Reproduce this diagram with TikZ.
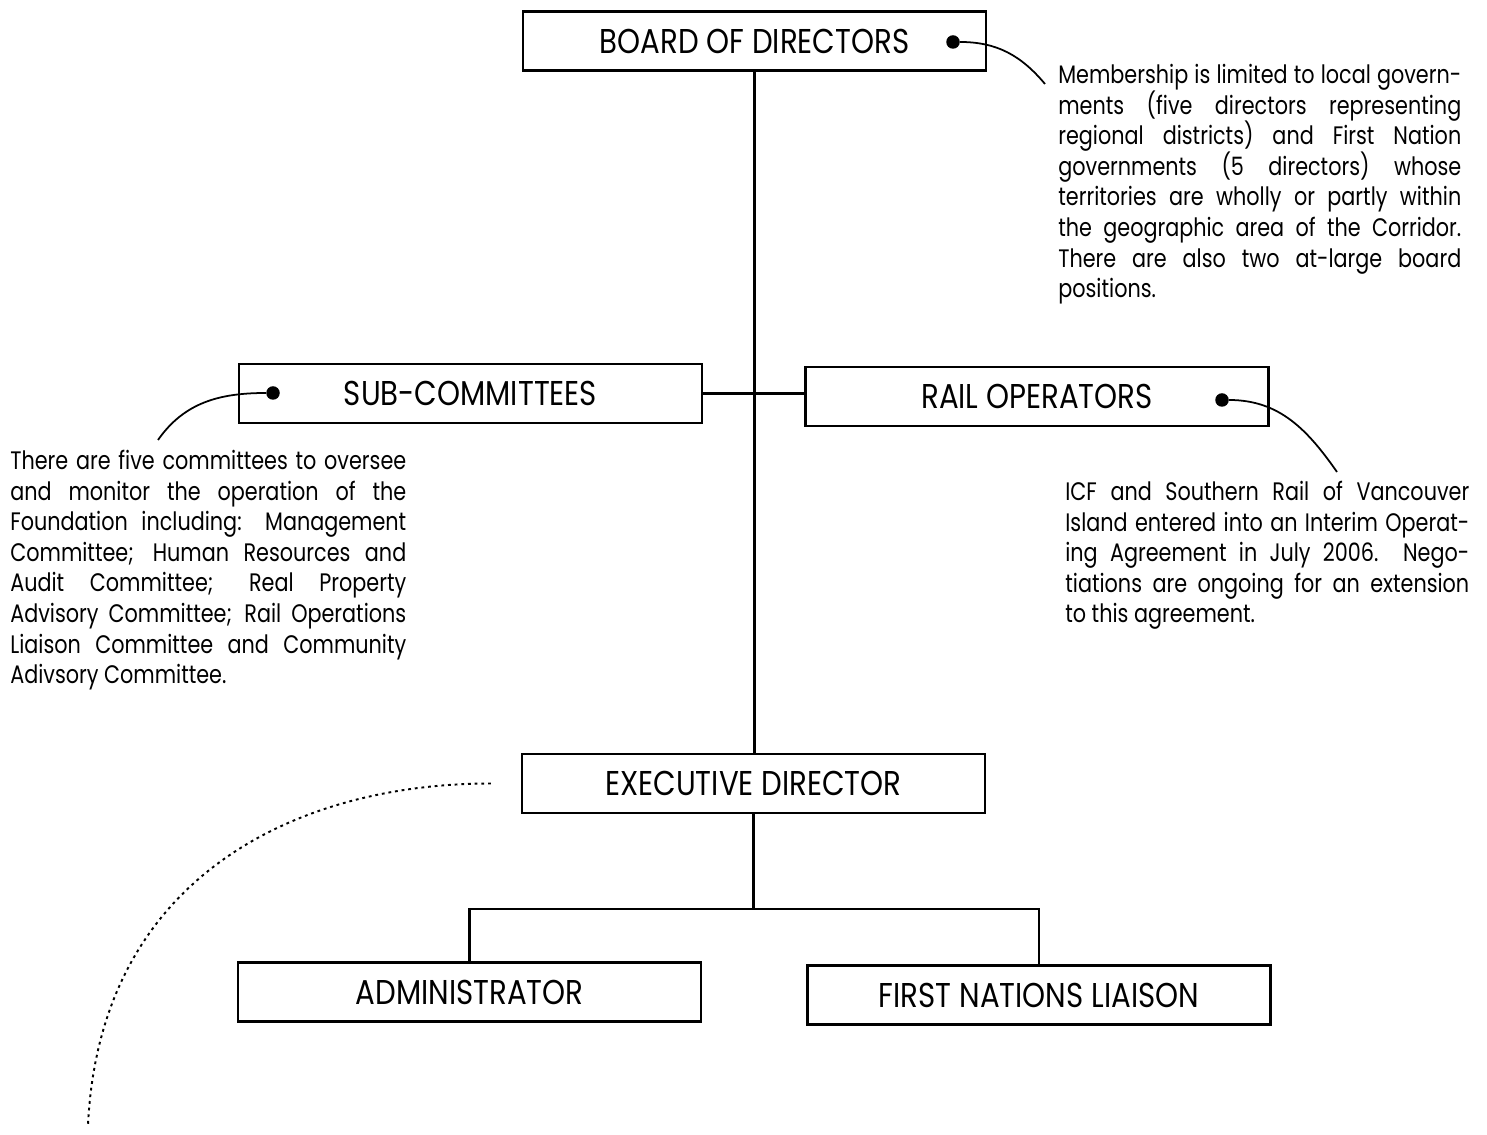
\documentclass[tikz,border=0pt]{standalone}
\usepackage{fontspec}
\setmainfont{Poppins}
\newfontfamily\boxfont{Poppins}[FakeStretch=0.85]
\newfontfamily\notefont{Poppins}[FakeStretch=0.82]
\usetikzlibrary{positioning}

\begin{document}
\begin{tikzpicture}[
  x=0.02cm, y=0.02cm,
  unit/.style={rectangle, draw, line width=1.4pt, minimum width=9.26cm, minimum height=1.18cm,
               inner sep=0pt, font=\boxfont\fontsize{19.6}{23}\selectfont},
  note/.style={anchor=north west, inner sep=0pt, align=justify,
               font=\notefont\fontsize{14.4}{17.4}\selectfont},
  link/.style={line width=1.4pt},
  pin/.style={circle, fill, inner sep=0pt, minimum size=0.27cm},
  leader/.style={line width=1pt},
  trail/.style={line width=1.1pt, dash pattern=on 1.6pt off 2.2pt}
]
\useasboundingbox (0,0) rectangle (1487,1135);

\node[unit] (board) at (754.5,1094) {BOARD OF DIRECTORS};
\node[unit] (sub) at (470.5,741.5) {SUB-COMMITTEES};
\node[unit] (rail) at (1037,738.5) {RAIL OPERATORS};
\node[unit] (exec) at (753.5,351.5) {EXECUTIVE DIRECTOR};
\node[unit] (admin) at (469.5,143) {ADMINISTRATOR};
\node[unit] (liaison) at (1039,140) {FIRST NATIONS LIAISON};

\draw[link] (board.south) -- (board.south |- exec.north);
\draw[link] (sub.east) -- (sub.east -| rail.west);
\draw[link] (exec.south) -- ++(0,-95) coordinate (split);
\draw[link] (admin.north) |- (split) -| (liaison.north);

\node[pin] (boardpin) at (953,1093) {};
\node[pin] (subpin) at (273,742) {};
\node[pin] (railpin) at (1222,735) {};

\node[note, text width=8.06cm] (boardnote) at (1058,1071)
  {Membership is limited to local govern-\linebreak{}ments (five directors representing\linebreak
   regional districts) and First Nation\linebreak governments (5 directors) whose\linebreak
   territories are wholly or partly within\linebreak the geographic area of the Corridor.\linebreak
   There are also two at-large board\linebreak positions.};
\node[note, text width=7.92cm] (subnote) at (10,685)
  {There are five committees to oversee\linebreak and monitor the operation of the\linebreak
   Foundation including: Management\linebreak Committee; Human Resources and\linebreak
   Audit Committee; Real Property\linebreak Advisory Committee; Rail Operations\linebreak
   Liaison Committee and Community\linebreak Adivsory Committee.};
\node[note, text width=8.08cm] (railnote) at (1065,654)
  {ICF and Southern Rail of Vancouver\linebreak Island entered into an Interim Operat-\linebreak{}ing
   Agreement in July 2006.\ \ Nego-\linebreak{}tiations are ongoing for an extension\linebreak
   to this agreement.};

\coordinate (boardend) at (1045,1051);
\coordinate (subend) at (158,695);
\coordinate (railend) at (1337,663);
\draw[leader] (boardpin) to[out=0,in=130] (boardend);
\draw[leader] (subpin) to[out=180,in=55] (subend);
\draw[leader] (railpin) to[out=0,in=125] (railend);

\coordinate (tail) at (88,10);
\draw[trail] ([xshift=-0.6cm]exec.west) .. controls +(-192,0) and +(12,250) .. (tail);
\end{tikzpicture}
\end{document}
